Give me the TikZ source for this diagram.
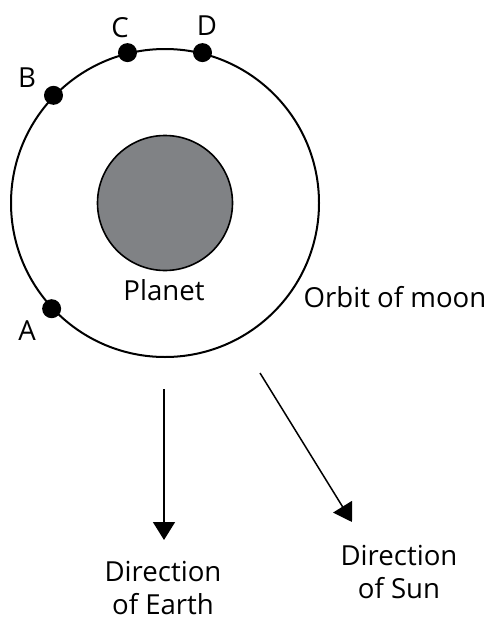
\documentclass[tikz,border=0pt]{standalone}
\usepackage{fontspec}
\setmainfont{Open Sans}
\usetikzlibrary{arrows.meta,positioning}
\definecolor{cplanet}{HTML}{808285}

\begin{document}
\begin{tikzpicture}[x=0.5pt, y=-0.5pt,
    every node/.style={font=\fontsize{13.8}{16.5}\selectfont},
    moon/.style={circle, fill=black, inner sep=0pt, minimum size=9.5pt},
    pointer/.style={-{Triangle[length=9pt,width=11pt]}, line width=0.75pt}]
  \useasboundingbox (0,0) rectangle (492,621);
  % orbit and planet
  \node[circle, draw, line width=1pt, minimum size=154pt, inner sep=0pt] (orbit) at (165,203) {};
  \node[circle, draw, fill=cplanet, line width=0.8pt, minimum size=67.5pt, inner sep=0pt] (planet) at (165,203) {};
  % moon positions
  \node[moon] (a) at (orbit.223) {};
  \node[moon] (b) at (orbit.136.5) {};
  \node[moon] (c) at (orbit.104.7) {};
  \node[moon] (d) at (orbit.76) {};
  \node[anchor=base] (la) at (27,340) {A};
  \node[anchor=base] (lb) at (27,87) {B};
  \node[anchor=base] (lc) at (120,37) {C};
  \node[anchor=base] (ld) at (207,35) {D};
  % labels
  \node[anchor=base] (lplanet) at (164,300) {Planet};
  \node[anchor=base] (lorbit) at (395,307) {Orbit of moon};
  % directions
  \coordinate (e0) at (164,389);
  \coordinate (e1) at (164,540);
  \coordinate (s0) at (260,373);
  \coordinate (s1) at (352,522);
  \draw[pointer] (e0) -- (e1);
  \draw[pointer] (s0) -- (s1);
  \node[align=center] (learth) at (163,588) {Direction\\of Earth};
  \node[align=center] (lsun) at (399,572) {Direction\\of Sun};
\end{tikzpicture}
\end{document}
